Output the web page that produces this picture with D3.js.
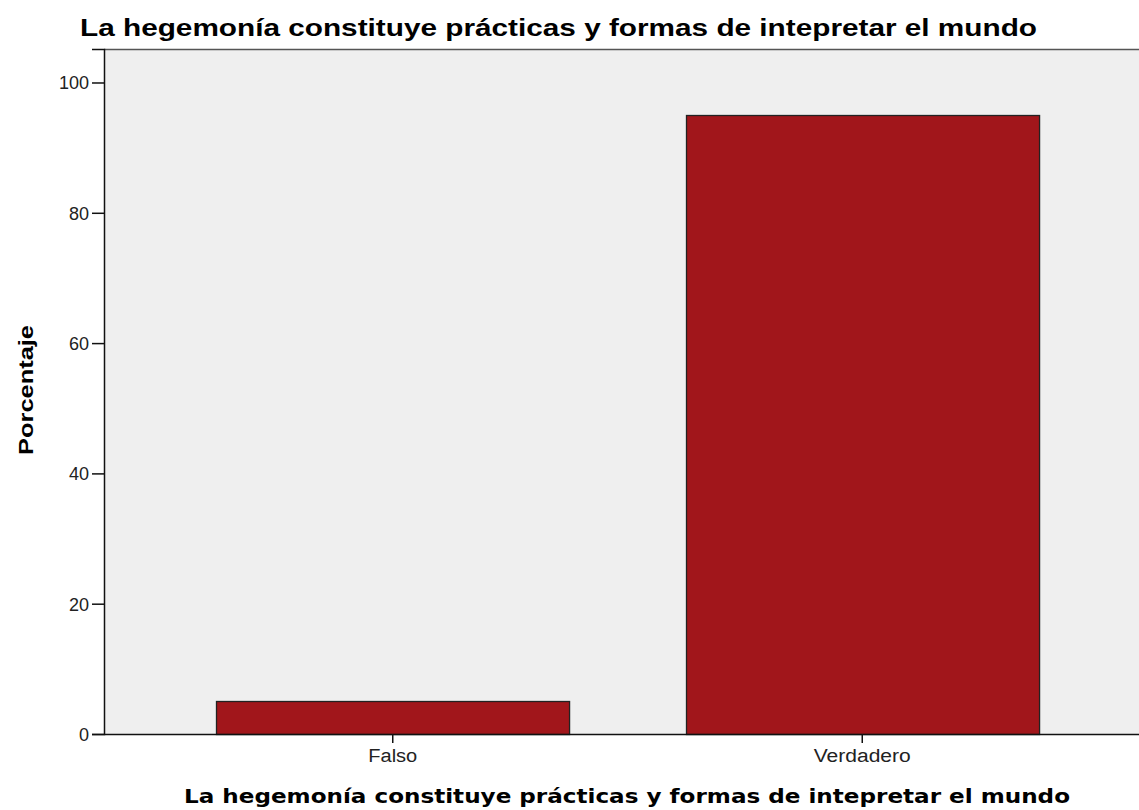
<!DOCTYPE html>
<html>
<head>
<meta charset="utf-8">
<script src="https://cdn.jsdelivr.net/npm/d3@7"></script>
<style>
  html, body { margin: 0; padding: 0; background: #ffffff; }
  svg { display: block; }
</style>
</head>
<body>
<script>
// ---- Data ----
const categories = ["Falso", "Verdadero"];
const percentages = [5, 95];
const yTicks = [0, 20, 40, 60, 80, 100];
const titleText = "La hegemonía constituye prácticas y formas de intepretar el mundo";
const xLabelText = "La hegemonía constituye prácticas y formas de intepretar el mundo";
const yLabelText = "Porcentaje";

// ---- Layout ----
const W = 1139, H = 810;
const plot = { left: 104, top: 49, bottom: 734, right: 1151 };

const svg = d3.select("body").append("svg")
  .attr("width", W).attr("height", H);

const x = d3.scaleBand()
  .domain(categories)
  .range([plot.left, plot.right])
  .paddingInner(0.248)
  .paddingOuter(0.239);

const y = d3.scaleLinear()
  .domain([0, 105.14])
  .range([plot.bottom, plot.top]);

// plot background
svg.append("rect")
  .attr("x", plot.left).attr("y", plot.top)
  .attr("width", plot.right - plot.left)
  .attr("height", plot.bottom - plot.top)
  .attr("fill", "#efefef");

// top border
svg.append("line")
  .attr("x1", plot.left).attr("x2", W)
  .attr("y1", plot.top + 0.5).attr("y2", plot.top + 0.5)
  .attr("stroke", "#555").attr("stroke-width", 1.5);

// bars
const data = categories.map((c, i) => ({ c, v: percentages[i] }));
svg.append("g").selectAll("rect").data(data).join("rect")
  .attr("x", d => Math.round(x(d.c)) + 0.5)
  .attr("y", d => Math.round(y(d.v)) + 0.5)
  .attr("width", x.bandwidth())
  .attr("height", d => y(0) - Math.round(y(d.v)))
  .attr("fill", "#a1161b")
  .attr("stroke", "#222")
  .attr("stroke-width", 1.3);

// y axis
const yAxis = svg.append("g")
  .attr("transform", `translate(${plot.left},0)`)
  .call(d3.axisLeft(y).tickValues(yTicks).tickSize(12).tickPadding(3).tickFormat(d3.format("d")));
yAxis.select(".domain").attr("stroke", "#111").attr("stroke-width", 1.5);
yAxis.selectAll(".tick line").attr("stroke", "#111").attr("stroke-width", 1.5);
yAxis.selectAll(".tick text")
  .attr("font-family", "'Liberation Sans', Arial, sans-serif")
  .attr("font-size", 18).attr("fill", "#222").attr("dy", "0.36em");

// x axis
const xAxis = svg.append("g")
  .attr("transform", `translate(0,${plot.bottom})`)
  .call(d3.axisBottom(x).tickSize(9).tickPadding(6).tickSizeOuter(0));
xAxis.select(".domain").attr("stroke", "#111").attr("stroke-width", 1.5)
  .attr("d", `M${plot.left},0.5H${W}`);
xAxis.selectAll(".tick line").attr("stroke", "#111").attr("stroke-width", 1.5);
xAxis.selectAll(".tick text")
  .attr("font-family", "'Liberation Sans', Arial, sans-serif")
  .attr("font-size", 18).attr("fill", "#222")
  .attr("textLength", d => d === "Falso" ? 49 : 97)
  .attr("lengthAdjust", "spacingAndGlyphs");

// title
svg.append("text")
  .attr("x", 80).attr("y", 36)
  .attr("font-family", "'Liberation Sans', Arial, sans-serif")
  .attr("font-weight", "bold").attr("font-size", 24)
  .attr("fill", "#000")
  .attr("textLength", 957).attr("lengthAdjust", "spacingAndGlyphs")
  .text(titleText);

// x label
svg.append("text")
  .attr("x", 184).attr("y", 803)
  .attr("font-family", "'DejaVu Sans', Verdana, sans-serif")
  .attr("font-weight", "bold").attr("font-size", 19)
  .attr("fill", "#000")
  .attr("textLength", 886).attr("lengthAdjust", "spacingAndGlyphs")
  .text(xLabelText);

// y label
svg.append("text")
  .attr("transform", "translate(33,390) rotate(-90)")
  .attr("text-anchor", "middle")
  .attr("font-family", "'Liberation Sans', Arial, sans-serif")
  .attr("font-weight", "bold").attr("font-size", 20)
  .attr("fill", "#000")
  .attr("textLength", 130).attr("lengthAdjust", "spacingAndGlyphs")
  .text(yLabelText);
</script>
</body>
</html>
